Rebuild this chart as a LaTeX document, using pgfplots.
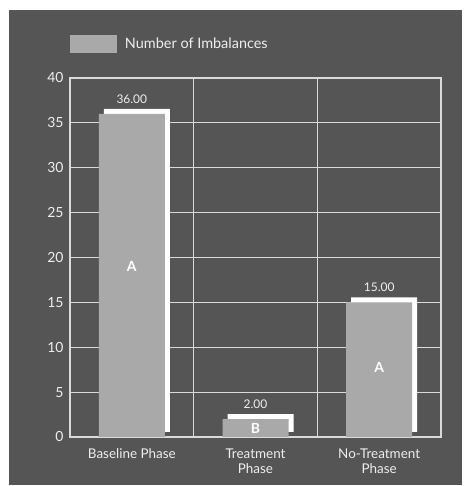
\documentclass[border=0pt]{standalone}
\usepackage{pgfplots}
\pgfplotsset{compat=1.18}
\usepackage{fontspec}
\setmainfont{Lato}
\definecolor{bg}{HTML}{555555}
\definecolor{bargray}{HTML}{A9A9A9}
\definecolor{gridc}{HTML}{DADADA}
\definecolor{txt}{HTML}{EEEEEE}
\begin{document}
\begin{tikzpicture}
\fill[white] (0,0) rectangle (473bp,486bp);
\fill[bg] (9bp,1bp) rectangle (462bp,476bp);
\begin{axis}[
  at={(70bp,49bp)}, anchor=south west,
  scale only axis, width=371bp, height=359bp,
  xmin=-0.5, xmax=2.5, ymin=0, ymax=40,
  ytick={0,5,...,40}, xtick={0,1,2},
  xticklabels={Baseline Phase, Treatment\\Phase, No-Treatment\\Phase},
  xticklabel style={align=center, font=\fontsize{13.5}{15.5}\selectfont, text=txt, yshift=-8bp},
  yticklabel style={font=\fontsize{14}{15}\selectfont, text=txt, xshift=-3bp},
  /pgf/number format/assume math mode=true,
  major tick length=0pt,
  ymajorgrids, grid style={gridc, line width=1.2bp},
  extra x ticks={0.5,1.5}, extra x tick labels={},
  extra x tick style={grid=major, major tick length=0pt},
  axis line style={gridc, line width=1.2bp},
  ybar, bar width=66bp,
  legend style={draw=none, fill=none, at={(0,1)}, anchor=west, yshift=34bp,
    inner sep=0pt, outer sep=0pt, text=txt, font=\fontsize{14.5}{16}\selectfont},
  legend cell align=left,
  legend image code/.code={\fill[bargray] (0bp,-9bp) rectangle (47bp,9bp);},
]
\addplot[fill=white, draw=none, bar shift=0pt, xshift=5bp, yshift=5bp, forget plot]
  coordinates {(0,36) (1,2) (2,15)};
\addplot[fill=bargray, draw=none, bar shift=0pt,
  nodes near coords,
  nodes near coords style={text=txt, font=\fontsize{12}{13}\selectfont, yshift=7bp,
    /pgf/number format/.cd, fixed, fixed zerofill, precision=2}]
  coordinates {(0,36) (1,2) (2,15)};
\addlegendentry{\hspace{6bp}Number of Imbalances}
\node[text=white, font=\bfseries\fontsize{14}{15}\selectfont] at (axis cs:0,19) {A};
\node[text=white, font=\bfseries\fontsize{14}{15}\selectfont] at (axis cs:1,1) {B};
\node[text=white, font=\bfseries\fontsize{14}{15}\selectfont] at (axis cs:2,7.7) {A};
\end{axis}
\pgfresetboundingbox
\useasboundingbox (0,0) rectangle (473bp,486bp);
\end{tikzpicture}
\end{document}
